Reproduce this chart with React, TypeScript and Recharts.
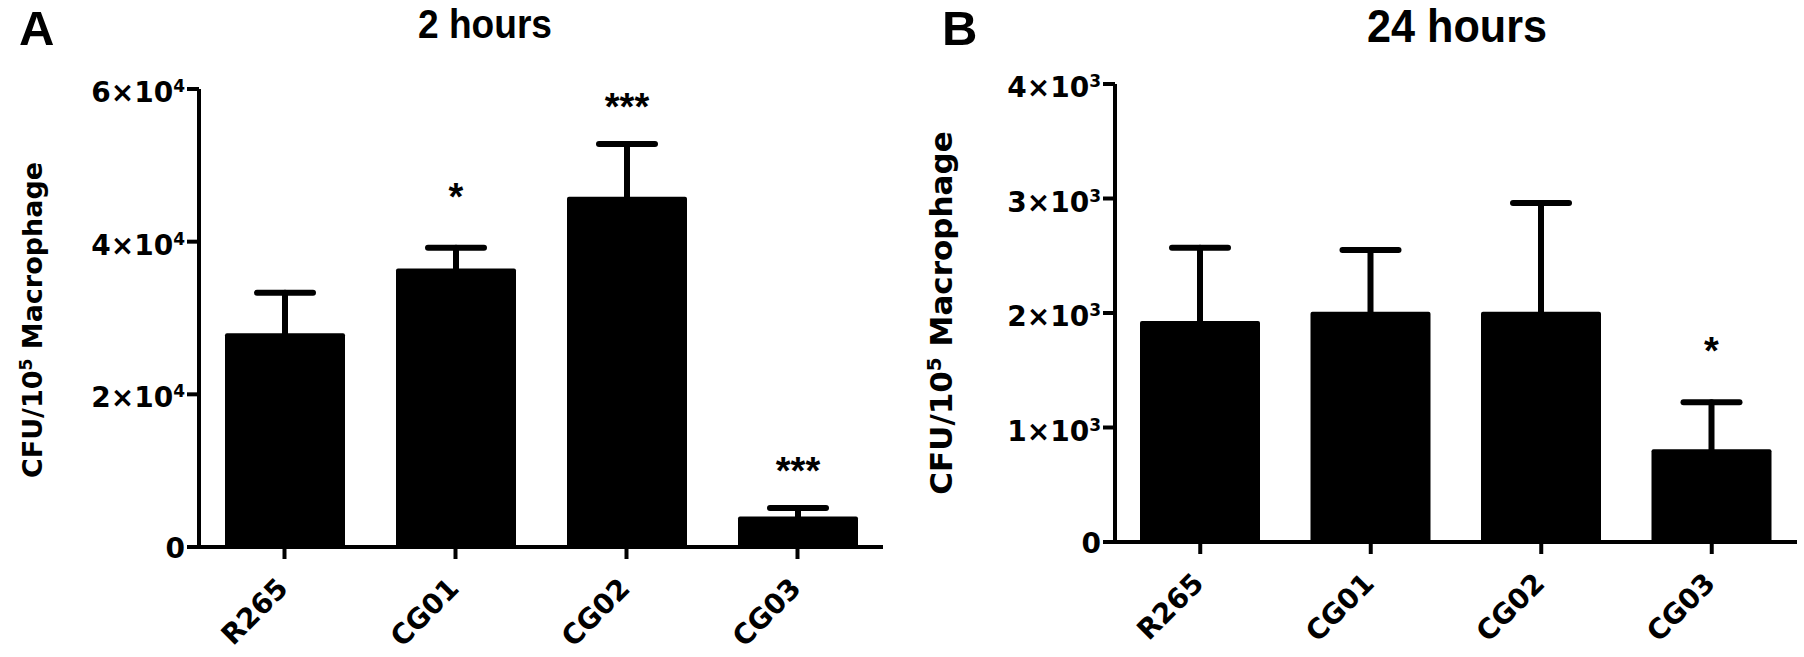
import React from "react";
import { Bar, BarChart, ErrorBar, LabelList, XAxis, YAxis } from "recharts";

const categories = ["R265", "CG01", "CG02", "CG03"];

// 2 hours, CFU per 10^5 macrophages (mean and upper error)
const means2h = [28000, 36500, 45900, 4000];
const errors2h = [5300, 2700, 6900, 1100];
const stars2h = ["", "*", "***", "***"];
const ticks2h = [0, 20000, 40000, 60000];

// 24 hours
const means24h = [1930, 2010, 2010, 810];
const errors24h = [640, 540, 950, 410];
const stars24h = ["", "", "", "*"];
const ticks24h = [0, 1000, 2000, 3000, 4000];

const SANS = "'DejaVu Sans', sans-serif";
const ARIAL = "'Liberation Sans', Arial, sans-serif";

function makeRows(means: number[], errors: number[], stars: string[]) {
  return categories.map((name, i) => ({
    name,
    mean: means[i],
    err: errors[i],
    sig: stars[i],
  }));
}

function PowerTick(props: any) {
  const { x, y, payload, exp } = props;
  const v = payload.value;
  const common = {
    textAnchor: "end" as const,
    fontFamily: SANS,
    fontWeight: 700,
    fill: "#000",
  };
  if (v === 0) {
    return (
      <text x={x} y={y + 11} fontSize={28} {...common}>
        0
      </text>
    );
  }
  const m = Math.round(v / Math.pow(10, exp));
  return (
    <text x={x} y={y + 13} fontSize={28} {...common}>
      <tspan>{`${m}×10`}</tspan>
      <tspan dy={-10} fontSize={17}>
        {exp}
      </tspan>
    </text>
  );
}

function CategoryTick(props: any) {
  const { x, y, payload } = props;
  const tx = x + 5;
  const ty = y + 29;
  return (
    <text
      x={tx}
      y={ty}
      transform={`rotate(-45 ${tx} ${ty})`}
      textAnchor="end"
      fontSize={28}
      fontFamily={SANS}
      fontWeight={700}
      fill="#000"
    >
      {payload.value}
    </text>
  );
}

// stars sit above the error cap; a lone star stands a little higher
function starLabel(means: number[], errors: number[], stars: string[]) {
  return (props: any) => {
    const vb = props.viewBox || props;
    const index = props.index;
    const s = stars[index];
    if (!s) return null;
    const perUnit = vb.height / means[index];
    const capY = vb.y - errors[index] * perUnit;
    const centre = capY - (s.length === 1 ? 60 : 46);
    return (
      <text
        x={vb.x + vb.width / 2}
        y={centre + 22}
        textAnchor="middle"
        fontSize={38}
        fontFamily={ARIAL}
        fontWeight={700}
        fill="#000"
      >
        {s}
      </text>
    );
  };
}

type PanelProps = {
  means: number[];
  errors: number[];
  stars: string[];
  ticks: number[];
  exp: number;
  width: number;
  margin: { top: number; right: number; bottom: number; left: number };
};

function Panel({ means, errors, stars, ticks, exp, width, margin }: PanelProps) {
  const rows = makeRows(means, errors, stars);
  const axisStroke = { stroke: "#000", strokeWidth: 4 };
  return (
    <BarChart width={width} height={657} data={rows} margin={margin}>
      <XAxis
        dataKey="name"
        interval={0}
        height={90}
        tickSize={12}
        axisLine={axisStroke}
        tickLine={axisStroke}
        tick={(p: any) => <CategoryTick {...p} />}
      />
      <YAxis
        domain={[0, ticks[ticks.length - 1]]}
        ticks={ticks}
        interval={0}
        width={110}
        tickSize={12}
        axisLine={axisStroke}
        tickLine={axisStroke}
        tick={(p: any) => <PowerTick {...p} exp={exp} />}
      />
      <Bar
        dataKey="mean"
        fill="#000"
        barSize={120}
        radius={2}
        isAnimationActive={false}
      >
        <ErrorBar
          dataKey="err"
          direction="y"
          width={28}
          stroke="#000"
          strokeWidth={6}
          strokeLinecap="round"
          isAnimationActive={false}
        />
        <LabelList dataKey="sig" content={starLabel(means, errors, stars)} />
      </Bar>
    </BarChart>
  );
}

export default function App() {
  return (
    <div
      style={{
        position: "absolute",
        left: 0,
        top: 0,
        width: 1804,
        height: 657,
        background: "#fff",
      }}
    >
      <div style={{ position: "absolute", left: 0, top: 0 }}>
        <Panel
          means={means2h}
          errors={errors2h}
          stars={stars2h}
          ticks={ticks2h}
          exp={4}
          width={900}
          margin={{ top: 89, right: 17, bottom: 20, left: 89 }}
        />
      </div>
      <div style={{ position: "absolute", left: 900, top: 0 }}>
        <Panel
          means={means24h}
          errors={errors24h}
          stars={stars24h}
          ticks={ticks24h}
          exp={3}
          width={904}
          margin={{ top: 84, right: 7, bottom: 25, left: 105 }}
        />
      </div>
      <svg
        width={1804}
        height={657}
        style={{ position: "absolute", left: 0, top: 0, pointerEvents: "none" }}
      >
        <g fontFamily={ARIAL} fontWeight={700} fill="#000">
          <text x={19} y={45} fontSize={49}>
            A
          </text>
          <text x={942} y={45} fontSize={49}>
            B
          </text>
          <text
            x={418}
            y={38}
            fontSize={41}
            textLength={134}
            lengthAdjust="spacingAndGlyphs"
          >
            2 hours
          </text>
          <text
            x={1367}
            y={42}
            fontSize={47}
            textLength={180}
            lengthAdjust="spacingAndGlyphs"
          >
            24 hours
          </text>
        </g>
        <g fontFamily={SANS} fontWeight={700} fill="#000">
          <text
            transform="translate(42 320) rotate(-90)"
            textAnchor="middle"
            fontSize={27}
          >
            CFU/10
            <tspan dy={-10} fontSize={17}>
              5
            </tspan>
            <tspan dy={10}> Macrophage</tspan>
          </text>
          <text
            transform="translate(952 313) rotate(-90)"
            textAnchor="middle"
            fontSize={31}
          >
            CFU/10
            <tspan dy={-11} fontSize={20}>
              5
            </tspan>
            <tspan dy={11}> Macrophage</tspan>
          </text>
        </g>
      </svg>
    </div>
  );
}
